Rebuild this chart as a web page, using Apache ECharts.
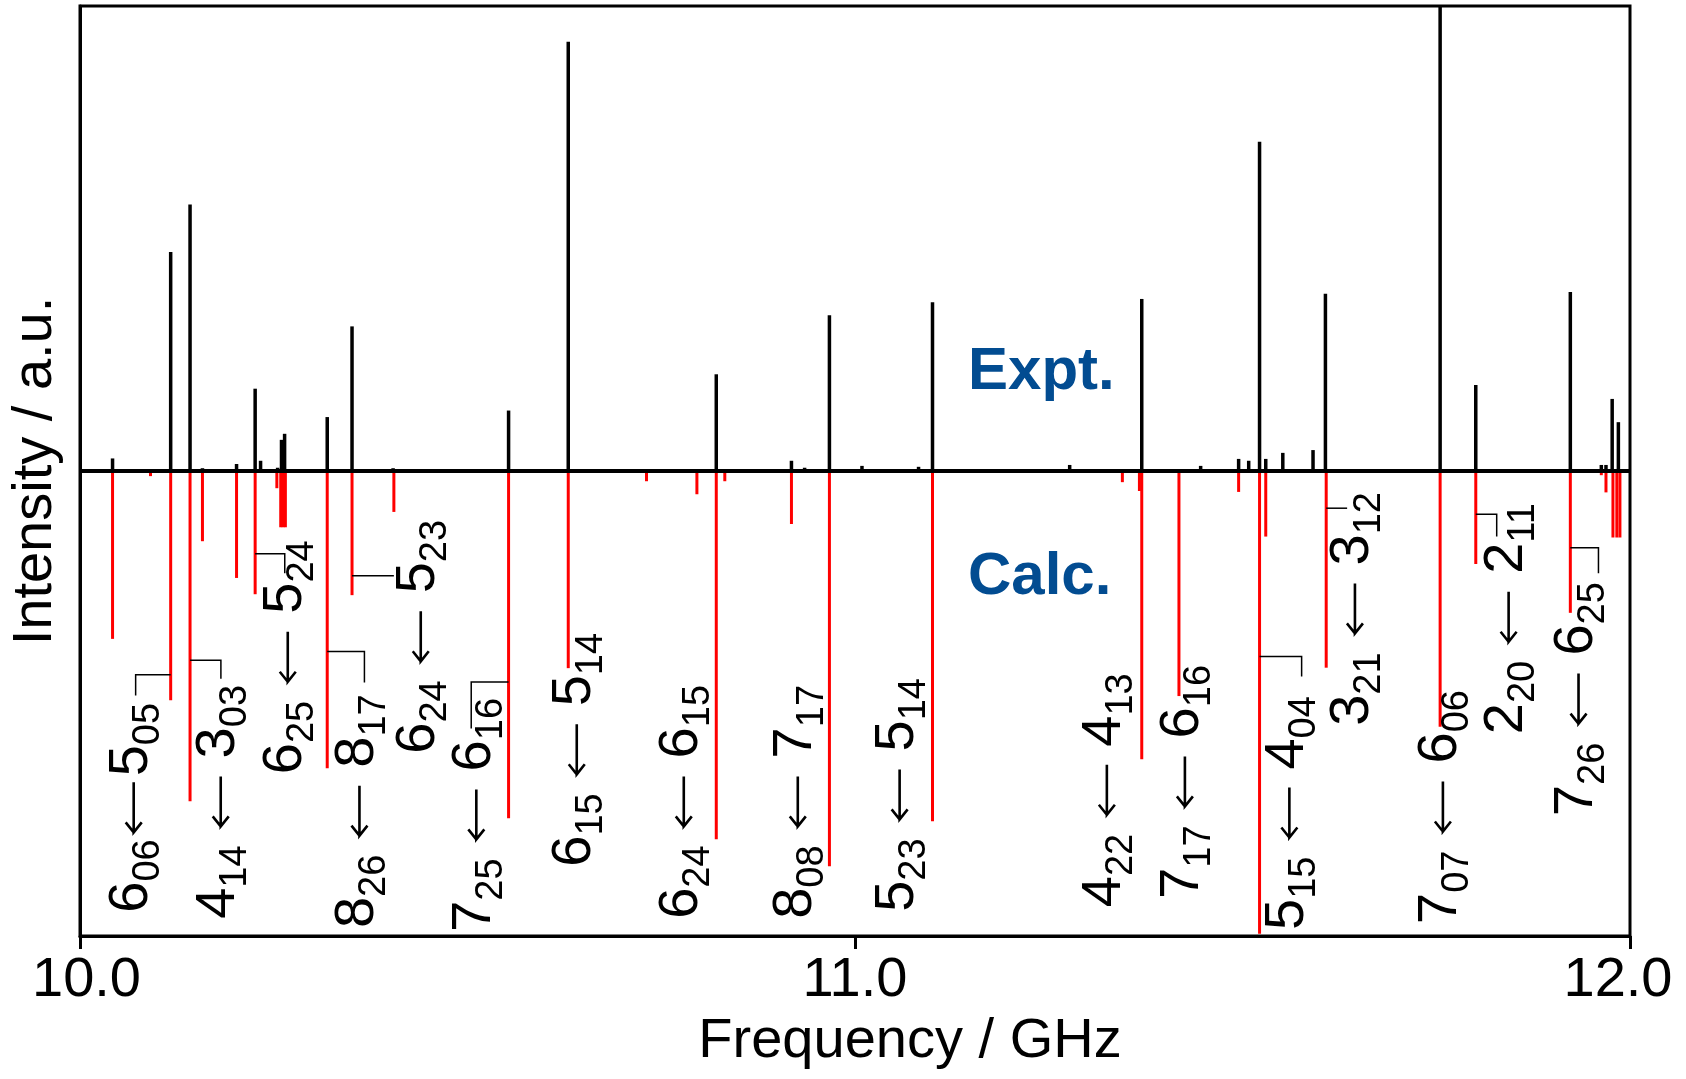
<!DOCTYPE html>
<html>
<head>
<meta charset="utf-8">
<script src="https://cdn.jsdelivr.net/npm/echarts@6/dist/echarts.min.js"></script>
<style>
html,body{margin:0;padding:0;background:#fff}
#chart{width:1686px;height:1079px}
</style>
</head>
<body>
<div id="chart"></div>
<script>
// experimental spectrum (stick positions / GHz, intensity a.u.)
const exptFreq = [10.042,10.117,10.142,10.158,10.202,10.226,10.233,10.255,10.260,10.264,10.319,10.351,10.404,10.553,10.630,10.821,10.918,10.935,10.967,11.009,11.082,11.100,11.277,11.370,11.446,11.495,11.508,11.522,11.530,11.552,11.591,11.607,11.755,11.801,11.923,11.963,11.969,11.977,11.985]
const exptInt = [2.7,47.1,57.3,0.6,1.5,17.7,2.2,0.7,6.7,8.0,11.6,31.1,0.6,13.0,92.3,20.8,2.2,0.7,33.5,1.1,0.9,36.3,1.3,37.0,1.1,2.6,2.2,70.8,2.6,3.9,4.5,38.1,100,18.5,38.5,1.3,1.3,15.5,10.5]

// calculated spectrum (drawn downwards)
const calcFreq = [10.042,10.091,10.117,10.142,10.158,10.202,10.226,10.254,10.259,10.262,10.265,10.319,10.351,10.405,10.553,10.630,10.731,10.796,10.821,10.832,10.918,10.967,11.100,11.345,11.367,11.370,11.418,11.495,11.522,11.530,11.608,11.755,11.801,11.923,11.963,11.969,11.978,11.983,11.987]
const calcInt = [-36.1,-1.1,-49.3,-71.0,-15.1,-23.0,-26.5,-3.7,-12.1,-12.1,-12.1,-63.9,-26.7,-8.8,-74.7,-42.4,-2.2,-5.0,-79.2,-2.2,-11.4,-85.0,-75.3,-2.4,-4.3,-62.0,-48.4,-4.5,-99.5,-14.1,-42.3,-55.0,-20.0,-30.5,-0.9,-4.6,-14.3,-14.3,-14.3]

// transition labels: upper <- lower, placed at (freq, start of text)
const upperLevel = ['6_06','4_14','6_25','8_26','6_24','7_25','6_15','6_24','8_08','5_23','4_22','7_17','5_15','3_21','7_07','2_20','7_26']
const lowerLevel = ['5_05','3_03','5_24','8_17','5_23','6_16','5_14','6_15','7_17','5_14','4_13','6_16','4_04','3_12','6_06','2_11','6_25']
const labelFreq = [10.0667,10.179,10.2655,10.358,10.4371,10.5088,10.6384,10.7765,10.9236,11.055,11.3224,11.4231,11.5579,11.6425,11.756,11.8408,11.931]
const labelStart = [-95.0,-96.3,-65.2,-98.3,-60.8,-99.1,-85.1,-96.3,-96.3,-94.8,-93.8,-92.0,-98.7,-54.8,-97.4,-56.6,-74.2]
const compactLabels = [0]

// leader lines from a calc stick to its label
const leaderFrom = [10.117,10.142,10.226,10.319,10.351,10.553,11.522,11.608,11.801,11.923]
const leaderTo = [10.0718,10.1818,10.2642,10.367,10.405,10.5048,11.5763,11.635,11.828,11.9593]
const leaderLevel = [-43.8,-40.7,-17.8,-38.8,-22.5,-45.4,-39.9,-8.0,-9.3,-16.5]
const leaderDrop = [-48.3,-44.7,-22.0,-45.5,null,-55.4,-44.2,null,-14.1,-22.0]

const xTicks = [10, 11, 12]

const FONT = '"Liberation Sans", Arial, Helvetica, sans-serif'
const BIG = 56
const SMALL = 38
const ARROW_LEN = 51

const ctx = document.createElement('canvas').getContext('2d')
function textWidth(t, size){
  ctx.font = size + 'px ' + FONT
  return ctx.measureText(t).width
}

function stick(color, width){
  return function(params, api){
    const p0 = api.coord([api.value(0), 0])
    const p1 = api.coord([api.value(0), api.value(1)])
    return {
      type: 'line',
      shape: {x1: p0[0], y1: p0[1], x2: p1[0], y2: p1[1]},
      style: {stroke: color, lineWidth: width}
    }
  }
}

function txt(t, x, y, size){
  return {
    type: 'text', x: x, y: y,
    style: {text: t, fontSize: size, fontFamily: FONT, fill: '#000', align: 'left', verticalAlign: 'middle'}
  }
}

// the "<-" between the two levels, in the label's own (rotated) frame
function arrow(x, y){
  return {
    type: 'polyline',
    shape: {points: [[x + 11, y - 8], [x + 1, y], [x + 11, y + 8], [x + 1, y], [x + ARROW_LEN, y]]},
    style: {stroke: '#000', lineWidth: 2.6, fill: null, lineJoin: 'miter'}
  }
}

function renderLabel(params, api){
  const i = params.dataIndex
  const p = api.coord([api.value(0), api.value(1)])
  const up = upperLevel[i].split('_')
  const lo = lowerLevel[i].split('_')
  const gap = compactLabels.indexOf(i) >= 0 ? 6 : 18
  const children = []
  let x = 0
  children.push(txt(up[0], x, 0, BIG)); x += textWidth(up[0], BIG)
  children.push(txt(up[1], x, 17, SMALL)); x += textWidth(up[1], SMALL)
  x += gap
  children.push(arrow(x, 2)); x += ARROW_LEN
  x += gap
  children.push(txt(lo[0], x, 0, BIG)); x += textWidth(lo[0], BIG)
  children.push(txt(lo[1], x, 17, SMALL))
  return {type: 'group', x: p[0], y: p[1], rotation: Math.PI / 2, children: children}
}

function renderLeader(params, api){
  const i = params.dataIndex
  const pts = [api.coord([leaderFrom[i], leaderLevel[i]]), api.coord([leaderTo[i], leaderLevel[i]])]
  if (leaderDrop[i] !== null) pts.push(api.coord([leaderTo[i], leaderDrop[i]]))
  return {
    type: 'polyline',
    shape: {points: pts},
    style: {stroke: '#000', lineWidth: 1.5, fill: null}
  }
}

const chart = echarts.init(document.getElementById('chart'))
chart.setOption({
  backgroundColor: '#fff',
  animation: false,
  grid: {
    left: 80, right: 56, top: 6, bottom: 143,
    show: true, borderColor: '#000', borderWidth: 3, backgroundColor: 'transparent'
  },
  xAxis: {
    type: 'value',
    min: 10, max: 12, interval: 1,
    name: 'Frequency / GHz',
    nameLocation: 'middle',
    nameGap: 76,
    nameTextStyle: {fontSize: 56, fontFamily: FONT, color: '#000', padding: [0, 0, 0, 110]},
    axisLine: {show: true, onZero: false, lineStyle: {color: '#000', width: 3}},
    axisTick: {show: true, inside: false, length: 13, lineStyle: {color: '#000', width: 3}},
    axisLabel: {
      fontSize: 56, fontFamily: FONT, color: '#000', margin: 17,
      formatter: function(v){
        if (v === xTicks[0]) return '{first|' + v.toFixed(1) + '}'
        if (v === xTicks[xTicks.length - 1]) return '{last|' + v.toFixed(1) + '}'
        return xTicks.indexOf(v) >= 0 ? v.toFixed(1) : ''
      },
      rich: {
        first: {fontSize: 56, fontFamily: FONT, color: '#000', padding: [0, 0, 0, 13]},
        last: {fontSize: 56, fontFamily: FONT, color: '#000', padding: [0, 24, 0, 0]}
      }
    },
    splitLine: {show: false}
  },
  yAxis: {
    type: 'value',
    min: -100, max: 100,
    name: 'Intensity / a.u.',
    nameLocation: 'middle',
    nameRotate: 90,
    nameGap: 16,
    nameTextStyle: {fontSize: 56, fontFamily: FONT, color: '#000'},
    axisLine: {show: true, onZero: false, lineStyle: {color: '#000', width: 3}},
    axisTick: {show: false},
    axisLabel: {show: false},
    splitLine: {show: false}
  },
  graphic: [
    {type: 'text', x: 968, y: 372, style: {text: 'Expt.', fontSize: 60, fontWeight: 'bold', fontFamily: FONT, fill: '#024C91', verticalAlign: 'middle'}},
    {type: 'text', x: 968, y: 577, style: {text: 'Calc.', fontSize: 60, fontWeight: 'bold', fontFamily: FONT, fill: '#024C91', verticalAlign: 'middle'}}
  ],
  series: [
    {
      name: 'Calc.',
      type: 'custom',
      clip: true,
      renderItem: stick('#ff0000', 3),
      data: calcFreq.map(function(f, i){ return [f, calcInt[i]] }),
      z: 2
    },
    {
      name: 'Expt.',
      type: 'custom',
      clip: true,
      renderItem: stick('#000', 3.5),
      data: exptFreq.map(function(f, i){ return [f, exptInt[i]] }),
      markLine: {
        silent: true,
        symbol: 'none',
        label: {show: false},
        lineStyle: {color: '#000', width: 4, type: 'solid'},
        data: [{yAxis: 0}]
      },
      z: 3
    },
    {
      name: 'leaders',
      type: 'custom',
      renderItem: renderLeader,
      data: leaderFrom.map(function(f, i){ return [f, leaderLevel[i]] }),
      z: 4
    },
    {
      name: 'labels',
      type: 'custom',
      renderItem: renderLabel,
      data: labelFreq.map(function(f, i){ return [f, labelStart[i]] }),
      z: 5
    }
  ]
})
</script>
</body>
</html>
